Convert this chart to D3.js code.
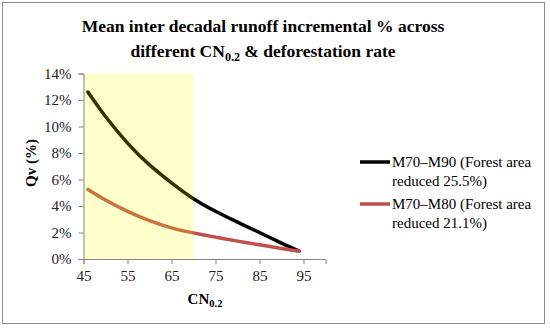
<!DOCTYPE html>
<html>
<head>
<meta charset="utf-8">
<script src="https://d3js.org/d3.v7.min.js"></script>
<style>
  body { margin: 0; background: #fff; }
  svg, svg text { font-family: "Liberation Serif", "Times New Roman", serif !important; }
</style>
</head>
<body>
<div id="chart"></div>
<script>
// CN values (x) and Qv in % for the two periods
var cnValues = [46, 50, 55, 60, 65, 70, 75, 80, 85, 90, 94];
var qvM90 = [12.6, 10.75, 8.75, 7.1, 5.75, 4.55, 3.6, 2.78, 2.0, 1.2, 0.6];
var qvM80 = [5.25, 4.45, 3.6, 2.9, 2.35, 1.97, 1.65, 1.35, 1.07, 0.8, 0.58];
var xTicks = [45, 55, 65, 75, 85, 95];
var yTicks = [0, 2, 4, 6, 8, 10, 12, 14];
var bandRange = [45, 70];

var series = [
  {name: "M70\u2013M90 (Forest area", name2: "reduced 25.5%)", values: qvM90, color: "#000000"},
  {name: "M70\u2013M80 (Forest area", name2: "reduced 21.1%)", values: qvM80, color: "#c0504d"}
];

var W = 550, H = 328;
var margin = {top: 73.5, left: 83.5};
var width = 242, height = 185.5;

var svg = d3.select("#chart").append("svg")
    .attr("width", W)
    .attr("height", H);

// outer frame
svg.append("rect")
    .attr("x", 2.5).attr("y", 2.5)
    .attr("width", 542).attr("height", 321)
    .attr("fill", "#fff")
    .attr("stroke", "#8a8a8a");

// title
var title = svg.append("text")
    .attr("text-anchor", "middle")
    .attr("font-weight", "bold")
    .attr("font-size", "17.5px");
title.append("tspan").attr("x", 263).attr("y", 32)
    .text("Mean inter decadal runoff incremental % across");
var t2 = title.append("tspan").attr("x", 263).attr("y", 57);
t2.append("tspan").text("different CN");
t2.append("tspan").attr("font-size", "12px").attr("dy", 4).text("0.2");
t2.append("tspan").attr("dy", -4).text(" & deforestation rate");

var g = svg.append("g")
    .attr("transform", "translate(" + margin.left + "," + margin.top + ")");

var xScale = d3.scaleLinear().domain([45, 100]).range([0, width]);
var yScale = d3.scaleLinear().domain([0, 14]).range([height, 0]);

// lines
var line = d3.line()
    .x(function(d) { return xScale(d[0]); })
    .y(function(d) { return yScale(d[1]); })
    .curve(d3.curveNatural);

series.forEach(function(s) {
  g.append("path")
    .datum(cnValues.map(function(c, i) { return [c, s.values[i]]; }))
    .attr("fill", "none")
    .attr("stroke", s.color)
    .attr("stroke-width", 3.5)
    .attr("stroke-linecap", "round")
    .attr("d", line);
});

// translucent yellow band over the lines
g.append("rect")
    .attr("x", xScale(bandRange[0]))
    .attr("y", yScale(14))
    .attr("width", xScale(bandRange[1]) - xScale(bandRange[0]))
    .attr("height", yScale(0) - yScale(14))
    .attr("fill", "#ffff00")
    .attr("fill-opacity", 0.2);

// axes
var xAxis = d3.axisBottom(xScale).tickValues(xTicks).tickSize(5).tickPadding(3);
var yAxis = d3.axisLeft(yScale).tickValues(yTicks).tickSize(5).tickPadding(7)
    .tickFormat(function(d) { return d + "%"; });

var gx = g.append("g")
    .attr("transform", "translate(0," + height + ")")
    .call(xAxis);
var gy = g.append("g").call(yAxis);

[gx, gy].forEach(function(a) {
  a.attr("font-family", null);
  a.select(".domain").attr("stroke", "#868686");
  a.selectAll(".tick line").attr("stroke", "#868686");
  a.selectAll("text")
    .attr("font-size", "15px")
    .attr("fill", "#222");
});
gx.selectAll(".tick text").attr("dy", "0.9em");

// axis titles
var xt = svg.append("text")
    .attr("x", 205).attr("y", 304)
    .attr("text-anchor", "middle")
    .attr("font-weight", "bold")
    .attr("font-size", "15px");
xt.append("tspan").text("CN");
xt.append("tspan").attr("font-size", "10.5px").attr("dy", 3).text("0.2");

svg.append("text")
    .attr("transform", "translate(36,163) rotate(-90)")
    .attr("text-anchor", "middle")
    .attr("font-weight", "bold")
    .attr("font-size", "15px")
    .text("Qv (%)");

// legend
var legend = svg.append("g");
series.forEach(function(s, i) {
  var y0 = 162 + i * 42;
  legend.append("line")
    .attr("x1", 360).attr("x2", 390)
    .attr("y1", y0).attr("y2", y0)
    .attr("stroke", s.color)
    .attr("stroke-width", 3.5);
  legend.append("text")
    .attr("x", 392).attr("y", y0 + 4.5)
    .attr("font-size", "15px")
    .text(s.name);
  legend.append("text")
    .attr("x", 392).attr("y", y0 + 23.5)
    .attr("font-size", "15px")
    .text(s.name2);
});
</script>
</body>
</html>
